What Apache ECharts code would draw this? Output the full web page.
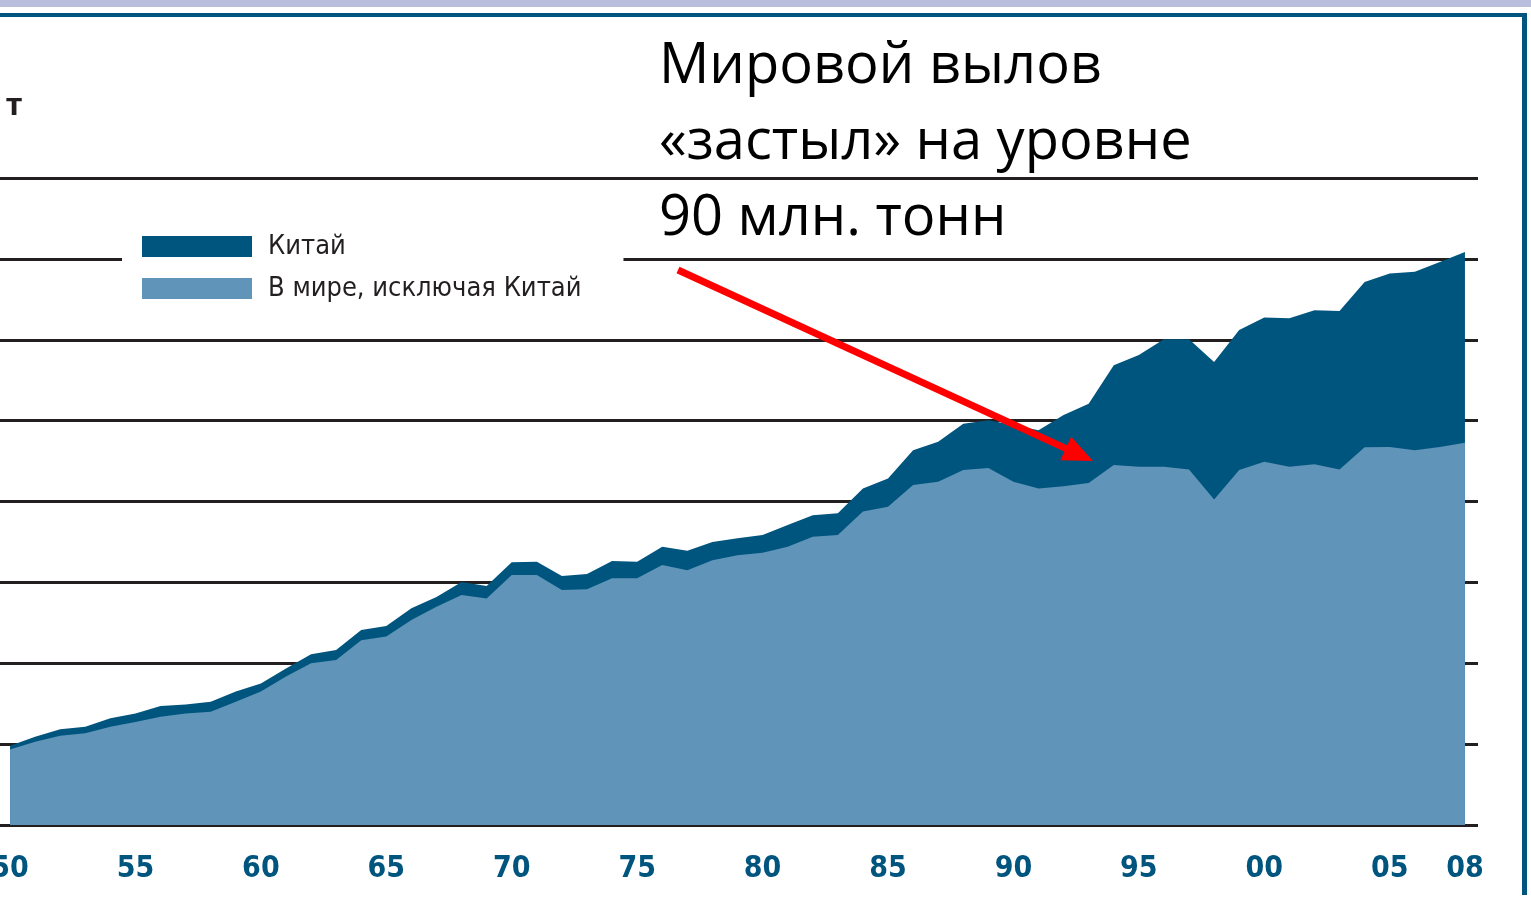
<!DOCTYPE html>
<html>
<head>
<meta charset="utf-8">
<script src="https://cdn.jsdelivr.net/npm/echarts@6/dist/echarts.min.js"></script>
<style>
  html, body { margin: 0; padding: 0; background: #fff; }
  #main { width: 1531px; height: 923px; }
</style>
</head>
<body>
<div id="main"></div>
<script>
// years 1950..2008
const years = [];
for (let y = 1950; y <= 2008; y++) years.push(y);

// world excluding China, mln t
const worldExChina = [
  18.7, 20.6, 22.1, 22.7, 24.3, 25.5, 26.8, 27.6, 28.0, 30.5,
  33.0, 36.7, 40.0, 40.8, 45.7, 46.6, 50.7, 54.0, 56.9, 56.0,
  61.8, 61.8, 58.1, 58.3, 61.0, 61.0, 64.3, 63.0, 65.5, 66.7,
  67.3, 68.8, 71.3, 71.7, 77.5, 78.7, 84.1, 84.9, 87.8, 88.3,
  84.9, 83.2, 83.8, 84.6, 89.0, 88.6, 88.6, 87.9, 80.5, 87.8,
  89.8, 88.6, 89.2, 87.9, 93.4, 93.5, 92.7, 93.5, 94.5
];

// China, mln t (sits on top of the rest of the world)
const china = [
  0.9, 1.2, 1.6, 1.6, 2.1, 2.1, 2.6, 2.2, 2.5, 2.5,
  2.0, 2.0, 2.2, 2.5, 2.5, 2.6, 2.9, 2.4, 3.2, 3.1,
  3.2, 3.3, 3.5, 3.8, 4.3, 4.1, 4.5, 4.8, 4.5, 4.2,
  4.4, 5.4, 5.3, 5.4, 5.7, 7.0, 8.6, 9.9, 11.4, 11.8,
  14.0, 14.4, 17.6, 19.6, 24.7, 27.6, 31.5, 32.2, 34.0, 34.6,
  35.7, 36.7, 38.1, 39.2, 40.9, 42.9, 44.1, 45.7, 47.2
];

const tickYears = [1950, 1955, 1960, 1965, 1970, 1975, 1980, 1985, 1990, 1995, 2000, 2005, 2008];

const seriesNames = ['Китай', 'В мире, исключая Китай'];
const noteLines = ['Мировой вылов', '«застыл» на уровне', '90 млн. тонн'];

const DARK = '#00557f';
const LIGHT = '#6095b9';
const INK = '#231f20';
const NARROW = "'DejaVu Sans Condensed', 'Liberation Sans Narrow', sans-serif";

const chart = echarts.init(document.getElementById('main'));

// arrow geometry (annotation)
const ax0 = 678, ay0 = 270, ax1 = 1093, ay1 = 461;
const len = Math.hypot(ax1 - ax0, ay1 - ay0);
const ux = (ax1 - ax0) / len, uy = (ay1 - ay0) / len;
const headL = 30, headW = 13;
const bx = ax1 - ux * headL, by = ay1 - uy * headL;

const option = {
  animation: false,
  backgroundColor: '#fff',
  grid: {
    left: -3, right: 53, top: 178, bottom: 98,
    containLabel: false,
    outerBoundsMode: 'none'
  },
  legend: {
    data: seriesNames,
    orient: 'vertical',
    left: 122,
    top: 221,
    padding: [12, 42, 12, 20],
    backgroundColor: '#fff',
    icon: 'rect',
    itemWidth: 110,
    itemHeight: 21,
    itemGap: 15,
    textStyle: {
      fontFamily: NARROW,
      fontSize: 27,
      color: INK,
      padding: [0, 0, 0, 11]
    }
  },
  xAxis: {
    type: 'value',
    min: 1949.48,
    max: 2008.52,
    axisLine: { show: false },
    axisTick: { show: false },
    splitLine: { show: false },
    axisLabel: {
      customValues: tickYears,
      formatter: v => String(v % 100).padStart(2, '0'),
      color: DARK,
      fontFamily: NARROW,
      fontWeight: 'bold',
      fontSize: 30,
      margin: 29
    }
  },
  yAxis: {
    type: 'value',
    min: 0,
    max: 160,
    interval: 20,
    axisLine: { show: false },
    axisTick: { show: false },
    axisLabel: { show: false },
    splitLine: { lineStyle: { color: INK, width: 3 } }
  },
  series: [
    {
      // China band: drawn as the full total, the rest of the world covers its lower part
      name: seriesNames[0],
      type: 'line',
      symbol: 'none',
      color: DARK,
      lineStyle: { width: 0 },
      areaStyle: { color: DARK, opacity: 1 },
      data: years.map((y, i) => [y, +(worldExChina[i] + china[i]).toFixed(1)])
    },
    {
      name: seriesNames[1],
      type: 'line',
      symbol: 'none',
      color: LIGHT,
      lineStyle: { width: 0 },
      areaStyle: { color: LIGHT, opacity: 1 },
      data: years.map((y, i) => [y, worldExChina[i]])
    }
  ],
  graphic: [
    // top bands and right border
    { type: 'rect', shape: { x: 0, y: 0, width: 1531, height: 7 }, style: { fill: '#b8bedb' }, z: 100 },
    { type: 'rect', shape: { x: 0, y: 13, width: 1527, height: 4 }, style: { fill: DARK }, z: 100 },
    { type: 'rect', shape: { x: 1522, y: 13, width: 5, height: 882 }, style: { fill: DARK }, z: 100 },
    // cropped unit label
    {
      type: 'text', x: 22, y: 122, z: 100,
      style: { text: 'млн т', textAlign: 'right', textVerticalAlign: 'bottom',
               font: 'bold 30px ' + NARROW, fill: INK }
    },
    // annotation
    ...noteLines.map((t, i) => ({
      type: 'text', x: 659, y: 67 + i * 76, z: 100,
      style: { text: t, textVerticalAlign: 'middle',
               font: "56px 'Open Sans', 'Noto Sans', sans-serif", fill: '#000' }
    })),
    {
      type: 'line', z: 110,
      shape: { x1: ax0, y1: ay0, x2: bx + ux * 4, y2: by + uy * 4 },
      style: { stroke: '#ff0000', lineWidth: 7 }
    },
    {
      type: 'polygon', z: 110,
      shape: { points: [
        [ax1, ay1],
        [bx - uy * headW, by + ux * headW],
        [bx + uy * headW, by - ux * headW]
      ] },
      style: { fill: '#ff0000' }
    }
  ]
};

chart.setOption(option);
</script>
</body>
</html>
